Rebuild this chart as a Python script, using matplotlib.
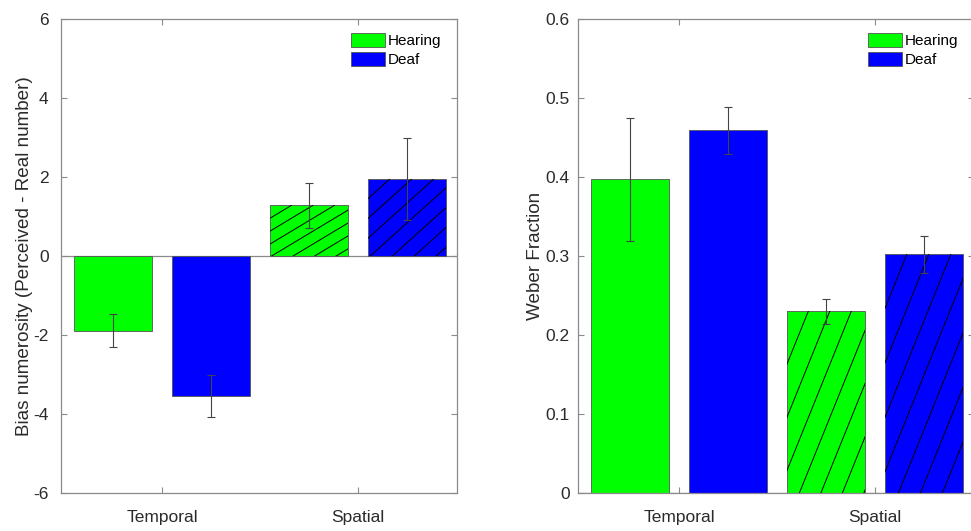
import numpy as np
import matplotlib
matplotlib.use("Agg")
import matplotlib.pyplot as plt
from matplotlib.lines import Line2D

plt.rcParams['font.family'] = ['Liberation Sans', 'DejaVu Sans']
plt.rcParams['axes.unicode_minus'] = False

categories = ["Temporal", "Spatial"]
groups = ["Hearing", "Deaf"]

bias_hearing = [-1.89, 1.28]
bias_hearing_err = [0.41, 0.56]
bias_deaf = [-3.54, 1.95]
bias_deaf_err = [0.54, 1.05]

weber_hearing = [0.397, 0.230]
weber_hearing_err = [0.078, 0.016]
weber_deaf = [0.459, 0.302]
weber_deaf_err = [0.030, 0.023]

green = "#00ff00"
blue = "#0000ff"
grey = "#8a8a8a"
textc = "#2b2b2b"

W, H = 971, 531
fig = plt.figure(figsize=(W / 100, H / 100), dpi=100)


def hatch_bar(ax, bar, angle, spacing):
    # diagonal lines clipped to the bar, angle in degrees, spacing in pixels
    x0, y0 = bar.get_x(), bar.get_y()
    x1, y1 = x0 + bar.get_width(), y0 + bar.get_height()
    (px0, py0), (px1, py1) = ax.transData.transform([(x0, min(y0, y1)), (x1, max(y0, y1))])
    k = np.tan(np.radians(angle))
    w = px1 - px0
    h = py1 - py0
    xs = np.arange(-h / k, w + spacing, spacing)
    inv = ax.transData.inverted()
    for xs0 in xs:
        pts = inv.transform([(px0 + xs0, py0), (px0 + xs0 + h / k, py1)])
        ln = Line2D(pts[:, 0], pts[:, 1], color="black", lw=0.7, zorder=3)
        ax.add_line(ln)
        ln.set_clip_path(bar)


def panel(ax, hear, hear_err, deaf, deaf_err, ylim, yticks, ylabel, angles, lpad):
    x = np.arange(1, len(categories) + 1)
    ax.set_xlim(0.485, 2.505)
    ax.set_ylim(*ylim)
    b1 = ax.bar(x - 0.25, hear, 0.4, color=green, edgecolor="#555555", lw=0.6,
                label=groups[0], zorder=2)
    b2 = ax.bar(x + 0.25, deaf, 0.4, color=blue, edgecolor="#555555", lw=0.6,
                label=groups[1], zorder=2)
    ax.errorbar(x - 0.25, hear, yerr=hear_err, fmt="none", ecolor="#444444",
                elinewidth=0.8, capsize=3, capthick=0.8, zorder=4)
    ax.errorbar(x + 0.25, deaf, yerr=deaf_err, fmt="none", ecolor="#444444",
                elinewidth=0.8, capsize=3, capthick=0.8, zorder=4)
    hatch_bar(ax, b1[1], angles[0], 21.5)
    hatch_bar(ax, b2[1], angles[1], 22)
    ax.axhline(0, color=grey, lw=0.9, zorder=1)
    ax.set_xticks(x)
    ax.set_xticklabels(categories)
    ax.set_yticks(yticks)
    ax.set_ylabel(ylabel, fontsize=13.6, color=textc, labelpad=lpad)
    for s in ax.spines.values():
        s.set_color(grey)
        s.set_linewidth(0.9)
    ax.tick_params(direction="in", length=4, color=grey, top=True, right=True,
                   labelsize=12.5, labelcolor=textc)
    ax.tick_params(axis="x", pad=12)
    ax.legend(loc="upper left", bbox_to_anchor=(0.733, 0.97), frameon=False,
              fontsize=11, handlelength=2.2, handleheight=1.0,
              handletextpad=0.2, labelspacing=0.25, borderpad=0, borderaxespad=0)


ax1 = fig.add_axes([61 / W, (H - 493) / H, 396 / W, 474 / H])
ax2 = fig.add_axes([578 / W, (H - 493) / H, 396 / W, 474 / H])

panel(ax1, bias_hearing, bias_hearing_err, bias_deaf, bias_deaf_err,
      (-6, 6), [-6, -4, -2, 0, 2, 4, 6], "Bias numerosity (Perceived - Real number)",
      (31, 42), 0)
panel(ax2, weber_hearing, weber_hearing_err, weber_deaf, weber_deaf_err,
      (0, 0.6), [0, 0.1, 0.2, 0.3, 0.4, 0.5, 0.6], "Weber Fraction", (68, 68), 1)
ax2.set_yticklabels(["0", "0.1", "0.2", "0.3", "0.4", "0.5", "0.6"])
ax1.yaxis.set_tick_params(pad=9)
ax2.yaxis.set_tick_params(pad=6)

fig.savefig("out.png", dpi=100)
